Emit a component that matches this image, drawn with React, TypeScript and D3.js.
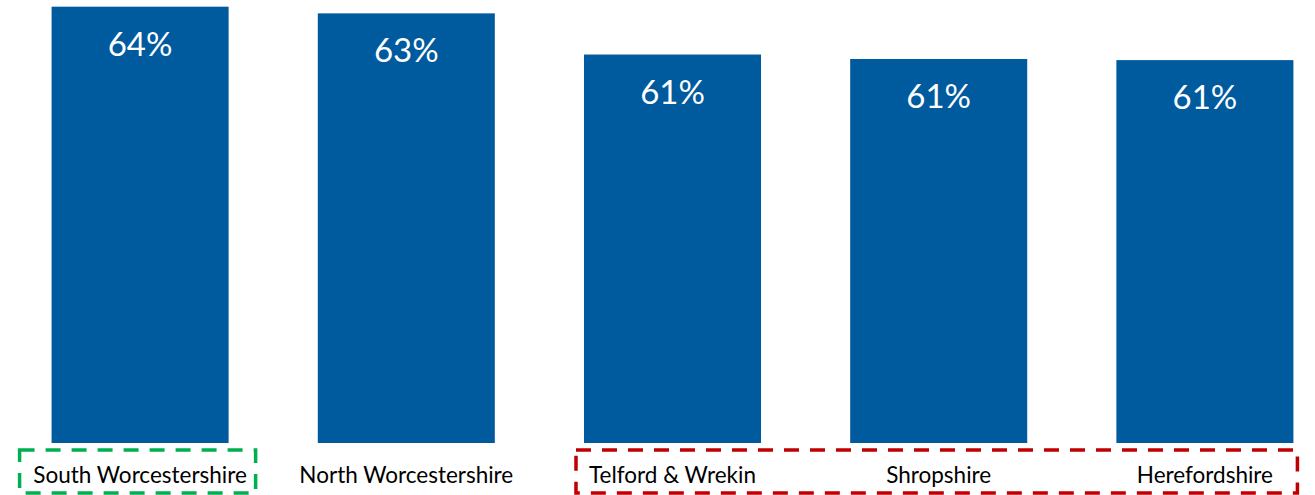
import React from "react";
import * as d3 from "d3";

const categories = ["South Worcestershire", "North Worcestershire", "Telford & Wrekin", "Shropshire", "Herefordshire"];
const values = [63.6, 63.3, 61.45, 61.25, 61.2];
const valueLabels = ["64%", "63%", "61%", "61%", "61%"];

const W = 1315;
const H = 495;
const BAR = "#005A9E";
const FONT = "Lato, 'Open Sans', sans-serif";

export default function App() {
  const x = d3.scaleBand<string>().domain(categories).range([7, 1338]).paddingInner(0.335).paddingOuter(0.1675);
  const y = d3.scaleLinear().domain([44, 63.9]).range([443, 0]);
  const bw = x.bandwidth();
  const x1 = x(categories[0])!;
  const x3 = x(categories[2])!;
  const x5 = x(categories[4])!;
  return (
    <svg width={W} height={H} style={{ position: "absolute", left: 0, top: 0, background: "#fff" }} fontFamily={FONT}>
      {categories.map((c, i) => (
        <g key={c}>
          <rect x={x(c)} y={y(values[i])} width={bw} height={y.range()[0] - y(values[i])} fill={BAR} />
          <text x={x(c)! + bw / 2} y={y(values[i]) + 49} textAnchor="middle" fill="#fff" fontSize={33}>
            {valueLabels[i]}
          </text>
          <text x={x(c)! + bw / 2} y={483} textAnchor="middle" fill="#000" fontSize={22.5}>
            {c}
          </text>
        </g>
      ))}
      <rect x={x1 - 32} y={450} width={bw + 59} height={43} fill="none" stroke="#00B050" strokeWidth={3.5} strokeDasharray="15 11" />
      <rect x={x3 - 8} y={450} width={x5 + bw + 4 - (x3 - 8)} height={43} fill="none" stroke="#C00000" strokeWidth={3.5} strokeDasharray="15 11" />
    </svg>
  );
}
